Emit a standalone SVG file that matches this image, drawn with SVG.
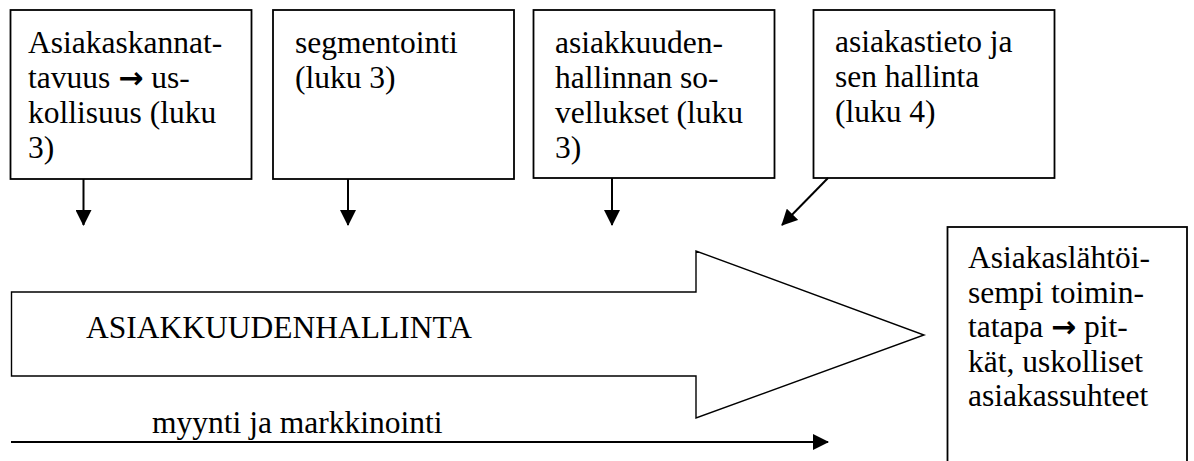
<svg xmlns="http://www.w3.org/2000/svg" width="1194" height="461" viewBox="0 0 1194 461">
<style>
.box{fill:#fff;stroke:#000;stroke-width:1.8}
.t{font-family:'Liberation Serif','Times New Roman',Times,serif;font-size:31.5px;fill:#000}
.ar{font-family:'DejaVu Sans',sans-serif;font-weight:bold;font-size:30px}
.c{stroke:#000;stroke-width:2;fill:none}
.big{fill:#fff;stroke:#000;stroke-width:1.4}
</style>
<defs>
<marker id="ah" markerUnits="userSpaceOnUse" markerWidth="16" markerHeight="16" viewBox="0 0 16 16" refX="15" refY="8" orient="auto">
<path d="M0,0 L16,8 L0,16 Z" fill="#000"/>
</marker>
</defs>
<rect width="1194" height="461" fill="#fff"/>
<g id="node-kannattavuus">
<rect class="box" x="10.5" y="10" width="241" height="169"/>
<text class="t" x="28" y="53"><tspan x="28">Asiakaskannat-</tspan><tspan x="28" dy="35">tavuus <tspan class="ar">→</tspan> us-</tspan><tspan x="28" dy="35">kollisuus (luku</tspan><tspan x="28" dy="35">3)</tspan></text>
</g>
<g id="node-segmentointi">
<rect class="box" x="273" y="10" width="241" height="169"/>
<text class="t" x="295" y="53"><tspan x="295">segmentointi</tspan><tspan x="295" dy="35">(luku 3)</tspan></text>
</g>
<g id="node-sovellukset">
<rect class="box" x="533.5" y="10" width="241" height="168"/>
<text class="t" x="555" y="53"><tspan x="555">asiakkuuden-</tspan><tspan x="555" dy="35">hallinnan so-</tspan><tspan x="555" dy="35">vellukset (luku</tspan><tspan x="555" dy="35">3)</tspan></text>
</g>
<g id="node-asiakastieto">
<rect class="box" x="813.5" y="10" width="241" height="168"/>
<text class="t" x="835" y="52"><tspan x="835">asiakastieto ja</tspan><tspan x="835" dy="35">sen hallinta</tspan><tspan x="835" dy="35">(luku 4)</tspan></text>
</g>
<g id="node-asiakkuudenhallinta">
<path class="big" d="M11.5,292 L696,292 L696,251 L924,335 L696,418 L696,376 L11.5,376 Z"/>
<text class="t" x="86" y="338">ASIAKKUUDENHALLINTA</text>
</g>
<g id="node-tulos">
<rect class="box" x="947.5" y="227" width="239.5" height="250"/>
<text class="t" x="968" y="268"><tspan x="968">Asiakaslähtöi-</tspan><tspan x="968" dy="34.5">sempi toimin-</tspan><tspan x="968" dy="34.5">tatapa <tspan class="ar">→</tspan> pit-</tspan><tspan x="968" dy="34.5">kät, uskolliset</tspan><tspan x="968" dy="34.5">asiakassuhteet</tspan></text>
</g>
<g id="label-myynti">
<text class="t" x="152" y="433">myynti ja markkinointi</text>
</g>
<g id="connectors">
<line class="c" x1="83.5" y1="179" x2="83.5" y2="225" marker-end="url(#ah)"/>
<line class="c" x1="348" y1="179" x2="348" y2="225" marker-end="url(#ah)"/>
<line class="c" x1="612" y1="178" x2="612" y2="225" marker-end="url(#ah)"/>
<line class="c" x1="828" y1="178" x2="782" y2="225" marker-end="url(#ah)"/>
<line class="c" x1="11" y1="442" x2="828" y2="442" marker-end="url(#ah)"/>
</g>
</svg>
